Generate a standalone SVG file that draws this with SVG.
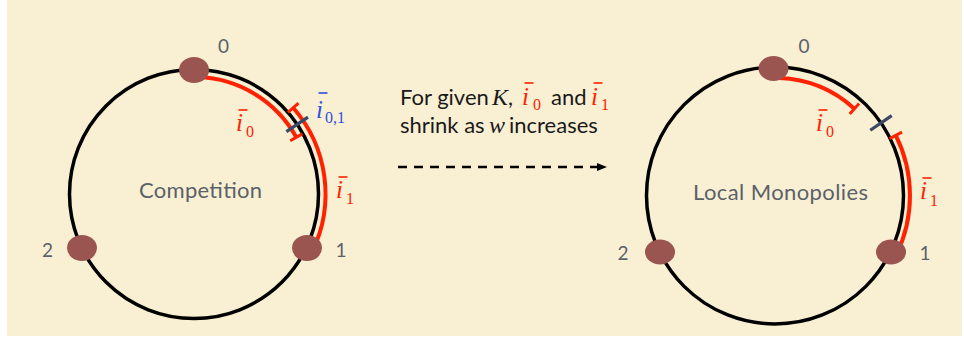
<svg xmlns="http://www.w3.org/2000/svg" width="964" height="339" viewBox="0 0 964 339">
  <defs>
    <style>
      .ring { fill: none; stroke: #000; stroke-width: 3.5; }
      .arc { fill: none; stroke: #ff2200; stroke-width: 4; }
      .cap { stroke: #ff2200; stroke-width: 3; }
      .tick { stroke: #3b4866; stroke-width: 3.2; }
      .node { fill: #9a5551; }
      .num { font-family: Lato, "Open Sans", sans-serif; font-size: 19px; fill: #5b6169; text-anchor: middle; }
      .title { font-family: Lato, "Open Sans", sans-serif; font-size: 22px; fill: #5b6169; text-anchor: middle; }
      .mi { font-family: "Liberation Serif", serif; font-style: italic; font-size: 25px; }
      .msub { font-style: normal; font-size: 16px; }
      .red { fill: #ff2200; }
      .blue { fill: #2f4fe0; }
      .barR { stroke: #ff2200; stroke-width: 1.6; }
      .barB { stroke: #2f4fe0; stroke-width: 1.6; }
      .body { font-family: Lato, "Open Sans", sans-serif; font-size: 22px; fill: #1a1a1a; }
      .mathit { font-family: "Liberation Serif", serif; font-style: italic; font-size: 24px; fill: #1a1a1a; }
    </style>
    <marker id="arrowhead" markerWidth="10" markerHeight="8" refX="9" refY="4" orient="auto" markerUnits="userSpaceOnUse">
      <path d="M0,0 L10,4 L0,8 Z" fill="#000"/>
    </marker>
  </defs>

  <rect x="0" y="0" width="964" height="339" fill="#ffffff"/>
  <rect x="7" y="0" width="955" height="336" fill="#f9f0d4"/>

  <!-- Left diagram: Competition -->
  <g id="competition">
    <circle class="ring" cx="194" cy="194" r="124.5"/>
    <g id="competition-arcs">
      <path class="arc" d="M198.1,77.1 A117,117 0 0 1 296.3,137.3"/>
      <line class="cap" x1="290.2" y1="140.7" x2="302.4" y2="133.9"/>
      <path class="arc" d="M312.2,251.7 A131.5,131.5 0 0 0 293.2,107.7"/>
      <line class="cap" x1="287.9" y1="112.3" x2="298.5" y2="103.1"/>
      <line class="tick" x1="286.4" y1="131.7" x2="308" y2="117.1"/>
    </g>
    <g id="c-node-0"><ellipse class="node" cx="194" cy="70" rx="15" ry="13"/><text class="num" x="223.5" y="53">0</text></g>
    <g id="c-node-1"><ellipse class="node" cx="307" cy="248" rx="15" ry="13"/><text class="num" x="341" y="257">1</text></g>
    <g id="c-node-2"><ellipse class="node" cx="82" cy="248" rx="15" ry="13"/><text class="num" x="47.5" y="257">2</text></g>
    <text class="title" x="200.5" y="198" textLength="123">Competition</text>
    <g id="c-label-i0">
      <text class="mi red" x="236" y="131">i<tspan class="msub" dx="3" dy="6">0</tspan></text>
      <line class="barR" x1="238.5" y1="110" x2="247.5" y2="110"/>
    </g>
    <g id="c-label-i01">
      <text class="mi blue" x="316" y="118">i<tspan class="msub" dx="2" dy="5">0,1</tspan></text>
      <line class="barB" x1="318.5" y1="93" x2="327.5" y2="93"/>
    </g>
    <g id="c-label-i1">
      <text class="mi red" x="336" y="198">i<tspan class="msub" dx="3" dy="6">1</tspan></text>
      <line class="barR" x1="338.5" y1="177" x2="347.5" y2="177"/>
    </g>
  </g>

  <!-- Middle caption and arrow -->
  <g id="caption">
    <text class="body" x="400" y="105">For given</text>
    <text class="mathit" x="492" y="105">K</text>
    <text class="body" x="508" y="105">,</text>
    <text class="mi red" x="522" y="105">i<tspan class="msub" dx="4" dy="5">0</tspan></text>
    <line class="barR" x1="524.5" y1="83" x2="533.5" y2="83"/>
    <text class="body" x="551" y="105">and</text>
    <text class="mi red" x="591" y="105">i<tspan class="msub" dx="3" dy="5">1</tspan></text>
    <line class="barR" x1="593.5" y1="83" x2="602.5" y2="83"/>
    <text class="body" x="400" y="133">shrink as</text>
    <text class="mathit" x="489" y="133">w</text>
    <text class="body" x="509" y="133">increases</text>
  </g>
  <g id="connectors">
    <line x1="398" y1="167" x2="606" y2="167" stroke="#000" stroke-width="2.5" stroke-dasharray="9 7" marker-end="url(#arrowhead)"/>
  </g>

  <!-- Right diagram: Local Monopolies -->
  <g id="monopolies">
    <circle class="ring" cx="775" cy="195.5" r="128.5"/>
    <g id="monopolies-arcs">
      <path class="arc" d="M779.1,78.1 A117.5,117.5 0 0 1 854.4,108.8"/>
      <line class="cap" x1="849.7" y1="114" x2="859.1" y2="103.6"/>
      <path class="arc" d="M896.3,254.7 A135,135 0 0 0 895.8,135.3"/>
      <line class="cap" x1="889.5" y1="138.6" x2="902" y2="132.2"/>
      <line class="tick" x1="870.3" y1="130.2" x2="891.7" y2="115.6"/>
    </g>
    <g id="m-node-0"><ellipse class="node" cx="773.5" cy="68.5" rx="15" ry="12.5"/><text class="num" x="804" y="53">0</text></g>
    <g id="m-node-1"><ellipse class="node" cx="891" cy="252" rx="15" ry="12.5"/><text class="num" x="925" y="260">1</text></g>
    <g id="m-node-2"><ellipse class="node" cx="660" cy="252" rx="15" ry="12.5"/><text class="num" x="623" y="260">2</text></g>
    <text class="title" x="780.5" y="200" textLength="175">Local Monopolies</text>
    <g id="m-label-i0">
      <text class="mi red" x="816" y="131">i<tspan class="msub" dx="3" dy="6">0</tspan></text>
      <line class="barR" x1="818.5" y1="110" x2="827.5" y2="110"/>
    </g>
    <g id="m-label-i1">
      <text class="mi red" x="920" y="199">i<tspan class="msub" dx="3" dy="7">1</tspan></text>
      <line class="barR" x1="922.5" y1="178" x2="931.5" y2="178"/>
    </g>
  </g>
</svg>
